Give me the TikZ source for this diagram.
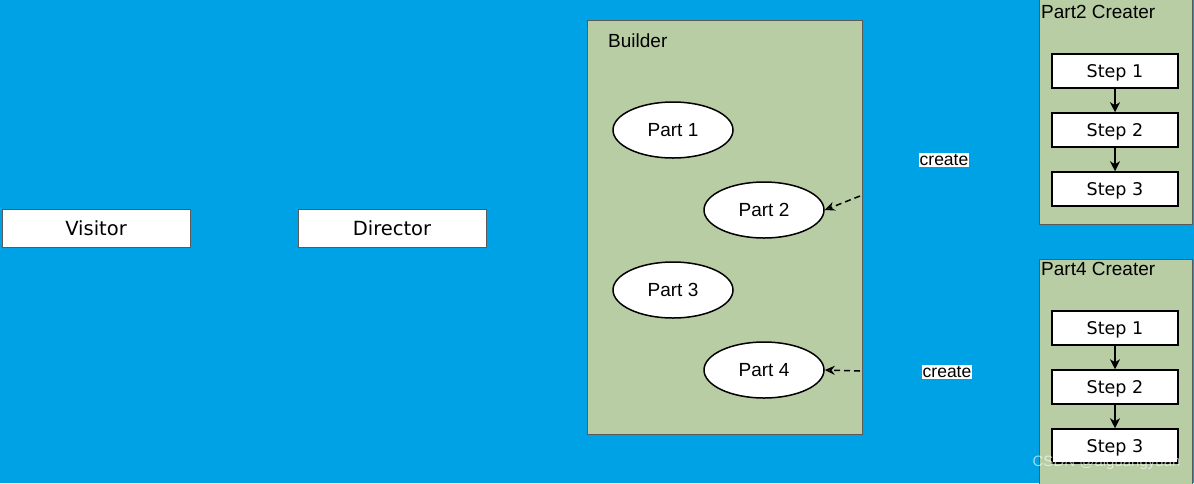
\documentclass[tikz,border=0pt]{standalone}
\usepackage{fontspec}
\setmainfont{Liberation Sans}
\newfontfamily\verd{DejaVu Sans}
\usetikzlibrary{shapes.geometric,arrows.meta}
\definecolor{bgblue}{RGB}{0,162,230}
\definecolor{grn}{RGB}{185,205,165}
\definecolor{bord}{RGB}{90,90,90}
\tikzset{
  plainbox/.style={text height=14.2pt,text depth=0pt,draw=bord,fill=white,line width=0.8pt,minimum width=188pt,minimum height=38pt,inner sep=0pt,font=\verd\fontsize{19.5}{21}\selectfont},
  container/.style={draw=bord,fill=grn,line width=0.8pt},
  part/.style={text height=13.7pt,text depth=0pt,ellipse,draw=black,fill=white,line width=1.5pt,minimum width=120pt,minimum height=56pt,inner sep=0pt,font=\fontsize{19}{21}\selectfont},
  stepbox/.style={text height=12.8pt,text depth=0pt,draw=black,fill=white,line width=1.5pt,minimum width=126pt,minimum height=34pt,inner sep=0pt,font=\verd\fontsize{17.5}{19}\selectfont},
  stepflow/.style={-{Stealth[length=10pt,width=10pt,inset=3pt]},line width=1.4pt},
  createarrow/.style={-{Stealth[length=10pt,width=9pt,open]},dashed,dash pattern=on 6pt off 4pt,line width=1.5pt},
  lbl/.style={fill=white,inner sep=1pt,font=\fontsize{17.5}{19}\selectfont},
  title/.style={anchor=west,inner sep=0pt,font=\fontsize{19}{21}\selectfont}
}
\begin{document}
\begin{tikzpicture}[x=1pt,y=-1pt]
\useasboundingbox (0,0) rectangle (1194,483);
\fill[bgblue] (0,0) rectangle (1194,483);
% left boxes
\node[plainbox] (visitor) at (96,228) {Visitor};
\node[plainbox] (director) at (392,228) {Director};
% builder
\draw[container] (587,20) rectangle (862,434);
\node[title] (builder) at (608,41) {Builder};
\node[part] (p1) at (673,130) {Part 1};
\node[part] (p2) at (764,210) {Part 2};
\node[part] (p3) at (673,290) {Part 3};
\node[part] (p4) at (764,370) {Part 4};
\coordinate (c2) at (860,196);
\coordinate (c4) at (860,371);
\draw[createarrow] (c2) -- (p2.east);
\draw[createarrow] (c4) -- (p4.east);
\node[lbl] (cr2) at (944,160) {create};
\node[lbl] (cr4) at (947,372) {create};
% Part2 creater
\draw[container] (1039,-2) rectangle (1192,224);
\node[title] (t2) at (1041,12) {Part2 Creater};
\node[stepbox] (a1) at (1115,71) {Step 1};
\node[stepbox] (a2) at (1115,130) {Step 2};
\node[stepbox] (a3) at (1115,189) {Step 3};
\draw[stepflow] (a1) -- (a2);
\draw[stepflow] (a2) -- (a3);
% Part4 creater
\draw[container] (1039,259) rectangle (1192,486);
\node[title] (t4) at (1041,269) {Part4 Creater};
\node[stepbox] (b1) at (1115,328) {Step 1};
\node[stepbox] (b2) at (1115,387) {Step 2};
\node[stepbox] (b3) at (1115,446) {Step 3};
\draw[stepflow] (b1) -- (b2);
\draw[stepflow] (b2) -- (b3);
% watermark
\node[anchor=east,text=white,opacity=0.6,font=\fontsize{15}{16}\selectfont] (wm) at (1184,463) {CSDN @aiguangyuan};
\end{tikzpicture}
\end{document}
